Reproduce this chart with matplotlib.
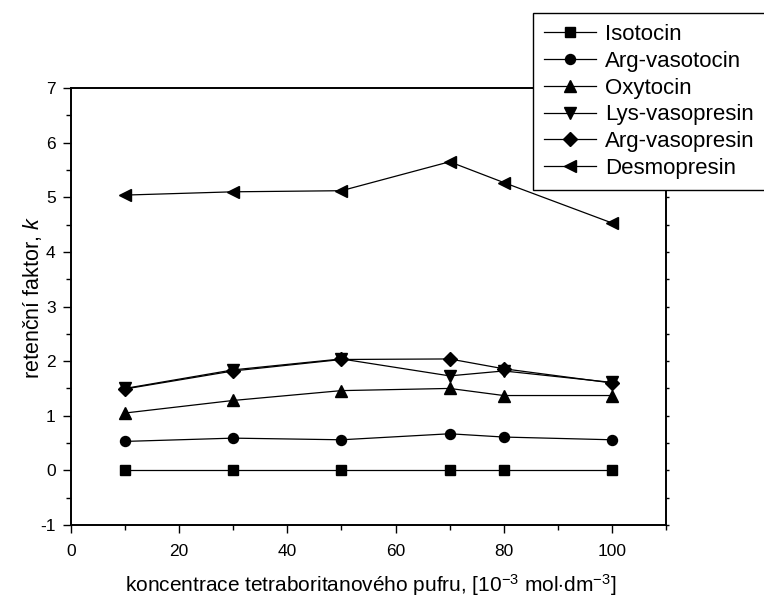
import matplotlib
matplotlib.use("Agg")
import matplotlib.pyplot as plt
from matplotlib.ticker import MultipleLocator

plt.rcParams['font.family'] = ['Liberation Sans', 'DejaVu Sans']
plt.rcParams['mathtext.fontset'] = 'custom'
plt.rcParams['mathtext.rm'] = 'Liberation Sans'
plt.rcParams['mathtext.it'] = 'Liberation Sans:italic'
plt.rcParams['axes.unicode_minus'] = False

# buffer concentration [10^-3 mol/dm^3]
concentration = [10, 30, 50, 70, 80, 100]

# retention factor k of each peptide
isotocin = [0.0, 0.0, 0.0, 0.0, 0.0, 0.0]
arg_vasotocin = [0.53, 0.59, 0.56, 0.67, 0.61, 0.56]
oxytocin = [1.05, 1.28, 1.46, 1.50, 1.37, 1.37]
lys_vasopresin = [1.50, 1.84, 2.04, 1.73, 1.82, 1.61]
arg_vasopresin = [1.49, 1.82, 2.03, 2.04, 1.86, 1.60]
desmopresin = [5.04, 5.10, 5.12, 5.65, 5.27, 4.53]

series_names = ['Isotocin', 'Arg-vasotocin', 'Oxytocin',
                'Lys-vasopresin', 'Arg-vasopresin', 'Desmopresin']
series_values = [isotocin, arg_vasotocin, oxytocin,
                 lys_vasopresin, arg_vasopresin, desmopresin]
markers = ['s', 'o', '^', 'v', 'D', '<']
marker_sizes = [6.5, 7.2, 8.2, 8.2, 6.8, 8.2]

fig = plt.figure(figsize=(7.64, 5.98), dpi=100)
ax = fig.add_axes([0.0929, 0.1221, 0.7788, 0.7307])

for name, vals, m, ms in zip(series_names, series_values, markers, marker_sizes):
    ax.plot(concentration, vals, color='black', linewidth=0.9,
            marker=m, markersize=ms, markerfacecolor='black',
            markeredgecolor='black', label=name)

ax.set_xlim(0, 110)
ax.set_ylim(-1, 7)
ax.xaxis.set_major_locator(MultipleLocator(20))
ax.xaxis.set_minor_locator(MultipleLocator(10))
ax.yaxis.set_major_locator(MultipleLocator(1))
ax.yaxis.set_minor_locator(MultipleLocator(0.5))

ax.tick_params(axis='both', which='major', direction='out', length=6,
               width=1, labelsize=12.5)
ax.tick_params(axis='x', which='major', pad=8)
ax.tick_params(axis='y', which='major', pad=5)
ax.tick_params(axis='both', which='minor', direction='out', length=3.5, width=1)
ax.tick_params(axis='both', which='both', top=False, right=False)
ax.set_xticks([0, 20, 40, 60, 80, 100])

# small outward marks on the right spine
ax_r = ax.twinx()
ax_r.set_ylim(ax.get_ylim())
ax_r.yaxis.set_major_locator(MultipleLocator(1))
ax_r.yaxis.set_minor_locator(MultipleLocator(0.5))
ax_r.tick_params(axis='y', which='both', direction='out', length=2, width=1,
                 labelright=False)
for a in (ax, ax_r):
    for sp in a.spines.values():
        sp.set_linewidth(1.2)

ax.set_xlabel(r'koncentrace tetraboritanového pufru, [10$^{-3}$ mol$\cdot$dm$^{-3}$]',
              fontsize=15)
ax.xaxis.set_label_coords(0.503, -0.108)
ax.set_ylabel(r'retenční faktor, $\mathit{k}$', fontsize=15.5)
ax.yaxis.set_label_coords(-0.045, 0.52)

handles, labels = ax.get_legend_handles_labels()
leg = fig.legend(handles, labels, loc='upper left', mode='expand',
                 bbox_to_anchor=(0.6976, 0.6806, 0.31, 0.2977),
                 bbox_transform=fig.transFigure,
                 fontsize=16, frameon=True, fancybox=False, framealpha=1,
                 edgecolor='black', handlelength=2.35, handletextpad=0.4,
                 labelspacing=0.26, borderpad=0.5, borderaxespad=0)
leg.get_frame().set_linewidth(1.0)
leg.set_zorder(10)

fig.savefig('out.png', dpi=100)
